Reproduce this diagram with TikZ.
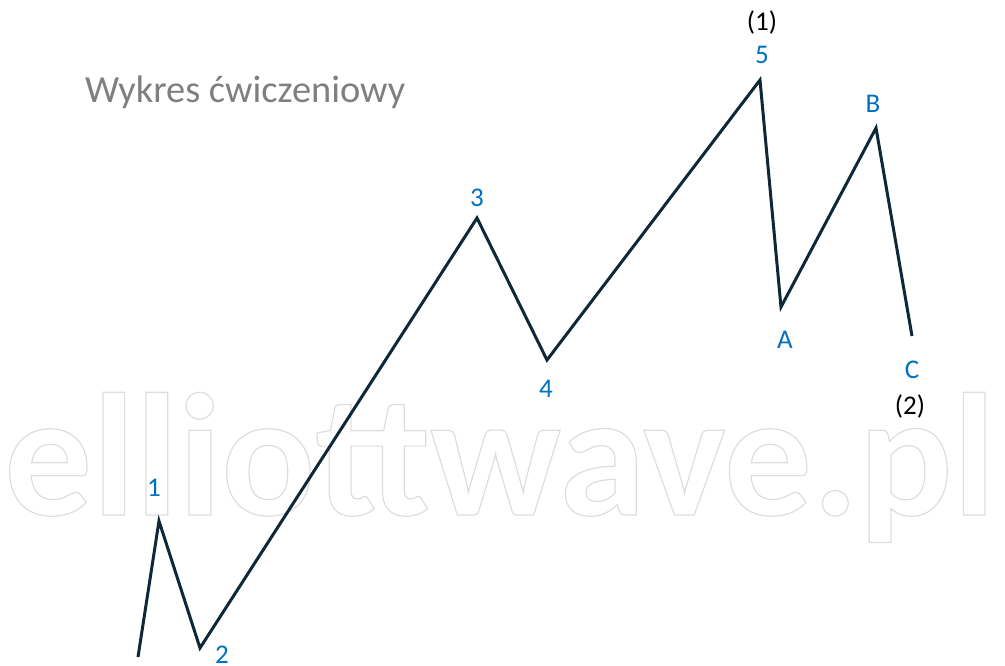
\documentclass[tikz,border=0pt]{standalone}
\usepackage{fontspec}
\setmainfont{Carlito}
\usetikzlibrary{positioning}
\definecolor{color_wave}{HTML}{0F2838}
\definecolor{color_count}{HTML}{0070C0}
\definecolor{color_degree}{HTML}{000000}
\definecolor{color_title}{HTML}{7F7F7F}
\definecolor{color_mark}{HTML}{DDDDDD}
\tikzset{
  wave_line/.style={draw=color_wave, line width=3pt, line join=miter},
  wave_label/.style={font=\fontsize{27}{30}\selectfont, text=color_count, inner sep=0pt},
  degree_label/.style={font=\fontsize{27}{30}\selectfont, text=color_degree, inner sep=0pt},
  chart_title/.style={font=\fontsize{38.4}{42}\selectfont, text=color_title, inner sep=0pt},
  watermark_text/.style={font=\fontsize{175}{180}\selectfont\bfseries, text=color_mark, inner sep=0pt},
}

\begin{document}
\begin{tikzpicture}[x=1pt, y=-1pt]
    \useasboundingbox (0,0) rectangle (1005,666);
    % watermark behind the chart, outlined letters
    \node[watermark_text, anchor=base west] (mark) at (4,515)
      {\special{pdf:literal direct 1 Tr 1.2 w}elliottwave.pl\special{pdf:literal direct 0 Tr}};
    \node[chart_title, anchor=west] (title) at (85,92) {Wykres ćwiczeniowy};
    % turning points of the wave
    \coordinate (w0) at (138,657);
    \coordinate (w1) at (159,521);
    \coordinate (w2) at (200,648);
    \coordinate (w3) at (477,218);
    \coordinate (w4) at (547,360);
    \coordinate (w5) at (760,80);
    \coordinate (wA) at (781,307);
    \coordinate (wB) at (876,128);
    \coordinate (wC) at (912,336);
    \draw[wave_line] (w0) -- (w1) -- (w2) -- (w3) -- (w4) -- (w5) -- (wA) -- (wB) -- (wC);
    % counts
    \node[wave_label] (l1) at (154,488) {1};
    \node[wave_label] (l2) at (222,655) {2};
    \node[wave_label] (l3) at (477,198) {3};
    \node[wave_label] (l4) at (546,389) {4};
    \node[wave_label] (l5) at (762,55) {5};
    \node[wave_label] (lA) at (785,340) {A};
    \node[wave_label] (lB) at (873,104) {B};
    \node[wave_label] (lC) at (912,370) {C};
    \node[degree_label] (d1) at (762,22) {(1)};
    \node[degree_label] (d2) at (910,406) {(2)};
\end{tikzpicture}
\end{document}
